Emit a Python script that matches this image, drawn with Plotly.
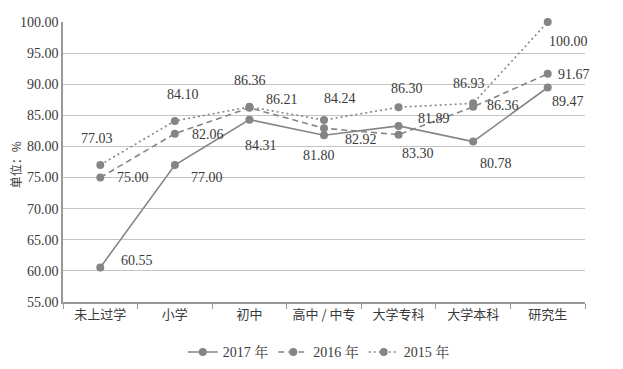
import plotly.graph_objects as go

categories = ["未上过学", "小学", "初中", "高中 / 中专", "大学专科", "大学本科", "研究生"]
series_names = ["2017 年", "2016 年", "2015 年"]
v2017 = [60.55, 77.00, 84.31, 81.80, 83.30, 80.78, 89.47]
v2016 = [75.00, 82.06, 86.21, 82.92, 81.89, 86.36, 91.67]
v2015 = [77.03, 84.10, 86.36, 84.24, 86.30, 86.93, 100.00]
y_ticks = [55, 60, 65, 70, 75, 80, 85, 90, 95, 100]

# label offsets (pixels) - style only
off2017 = [(37, -7), (32, 12), (12, 26), (-5, 20), (19, 28), (23, 22), (20, 14)]
off2016 = [(33, 0), (33, 1), (33, -8), (37, 11), (35, -16), (30, -1), (26, 1)]
off2015 = [(-3, -26), (8, -26), (1, -26), (16, -22), (8, -19), (-4, -20), (21, 19)]

FONT = "Liberation Serif, Noto Serif CJK SC, Noto Sans CJK SC, serif"
GRAY = "#858585"
TXT = "#3a3a3a"

fig = go.Figure()
styles = ["solid", "6px,4px", "2px,3px"]
data = [v2017, v2016, v2015]
offs = [off2017, off2016, off2015]
for name, vals, dash in zip(series_names, data, styles):
    fig.add_trace(go.Scatter(
        x=categories, y=vals, name=name, mode="lines+markers",
        line=dict(color=GRAY, width=1.6, dash=dash),
        marker=dict(color=GRAY, size=8), cliponaxis=False,
    ))

annotations = []
for vals, off in zip(data, offs):
    for c, v, (dx, dy) in zip(categories, vals, off):
        annotations.append(dict(
            x=c, y=v, xref="x", yref="y", text=f"{v:.2f}", showarrow=False,
            xshift=dx, yshift=-dy, font=dict(family=FONT, size=14, color=TXT),
        ))

annotations.append(dict(
    x=-0.091, y=0.49, xref="paper", yref="paper", text="单位：%", textangle=-90,
    showarrow=False, xanchor="center", yanchor="middle",
    font=dict(family="Noto Sans CJK SC", size=12, color=TXT),
))

fig.update_layout(
    width=615, height=361,
    margin=dict(l=55, r=38, t=14, b=67, autoexpand=False),
    plot_bgcolor="white", paper_bgcolor="white",
    font=dict(family=FONT, size=14, color=TXT),
    annotations=annotations,
    showlegend=True,
    legend=dict(orientation="h", x=0.49, xanchor="center", y=-0.18, yanchor="middle",
                font=dict(family=FONT, size=14, color=TXT),
                bgcolor="rgba(0,0,0,0)"),
    xaxis=dict(
        type="category", range=[-0.5, 6.5], tickson="boundaries",
        ticks="outside", ticklen=5, tickcolor="#999999", tickangle=0,
        showline=True, linecolor="#999999", linewidth=1.5,
        showgrid=False, automargin=False,
        tickfont=dict(family="Noto Sans CJK SC", size=13, color=TXT),
    ),
    yaxis=dict(
        range=[55, 100], tickvals=y_ticks, tickformat=".2f",
        showgrid=True, gridcolor="#c4c4c4", gridwidth=1.2,
        showline=True, linecolor="#999999", linewidth=1.5,
        zeroline=False, ticks="", automargin=False,
        tickfont=dict(family=FONT, size=14, color=TXT),
    ),
)

fig.write_html("out.html")
